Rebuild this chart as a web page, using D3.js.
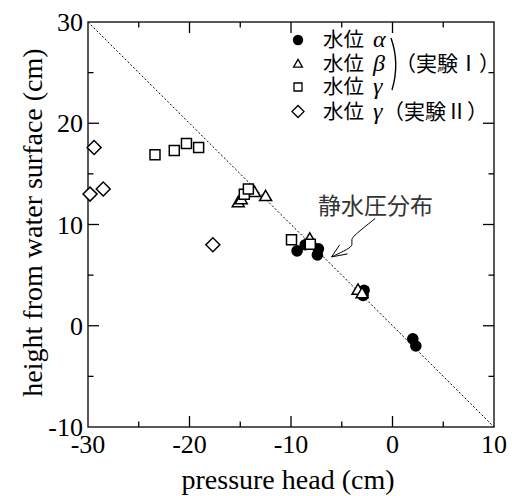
<!DOCTYPE html>
<html><head><meta charset="utf-8">
<script src="https://cdn.jsdelivr.net/npm/d3@7"></script>
<style>body{margin:0;background:#fff}svg{display:block}</style>
</head><body>
<svg id="c" width="512" height="496"></svg>
<script>
// ---- data ----
const alphaX = [-9.4, -8.6, -7.3, -7.4, -2.8, -2.9, 2.0, 2.3];
const alphaY = [7.4, 8.0, 7.6, 7.0, 3.5, 3.0, -1.3, -2.0];
const betaX = [-15.2, -14.9, -13.6, -12.5, -8.15, -3.4, -3.0];
const betaY = [12.1, 12.4, 13.1, 12.7, 8.5, 3.45, 3.1];
const gammaX = [-23.4, -21.5, -20.3, -19.1, -14.6, -14.2, -9.95, -8.1];
const gammaY = [16.9, 17.3, 18.0, 17.6, 13.0, 13.5, 8.5, 8.05];
const gamma2X = [-29.8, -28.5, -29.4, -17.7];
const gamma2Y = [13.0, 13.5, 17.6, 8.0];
const lineX = [-30, 10];
const lineY = [30, -10];
const xTicks = [-30, -20, -10, 0, 10];
const yTicks = [-10, 0, 10, 20, 30];
const xLabel = "pressure head (cm)";
const yLabel = "height from water surface (cm)";
const legendNames = ["α", "β", "γ", "γ"];
const annotText = "静水圧分布";
const arrowPts = [[-1.7, 10.6], [-3.7, 9.0], [-4.1, 8.5], [-3.9, 8.0], [-4.3, 7.6], [-6.0, 6.8]];

// ---- layout ----
const L = 88, R = 494, T = 22, B = 427;
const svg = d3.select("#c");
const x = d3.scaleLinear().domain([-30, 10]).range([L, R]);
const y = d3.scaleLinear().domain([-10, 30]).range([B, T]);
const serif = "'Liberation Serif','Times New Roman',serif";
const cjk = "'Liberation Serif','Noto Sans CJK JP','Noto Sans CJK SC',sans-serif";

// frame
svg.append("rect").attr("x", L).attr("y", T).attr("width", R - L).attr("height", B - T)
  .attr("fill", "none").attr("stroke", "#000").attr("stroke-width", 1.3);

// ticks (inward, all four sides)
const xt = d3.range(-30, 10.01, 5), yt = d3.range(-10, 30.01, 5);
const tk = svg.append("g").attr("stroke", "#000").attr("stroke-width", 1.3);
xt.forEach(v => {
  const len = (v % 10 === 0) ? 11 : 5.5;
  if (v > -30 && v < 10) {
    tk.append("line").attr("x1", x(v)).attr("x2", x(v)).attr("y1", B).attr("y2", B - len);
    tk.append("line").attr("x1", x(v)).attr("x2", x(v)).attr("y1", T).attr("y2", T + len);
  }
});
yt.forEach(v => {
  const len = (v % 10 === 0) ? 11 : 5.5;
  if (v > -10 && v < 30) {
    tk.append("line").attr("y1", y(v)).attr("y2", y(v)).attr("x1", L).attr("x2", L + len);
    tk.append("line").attr("y1", y(v)).attr("y2", y(v)).attr("x1", R).attr("x2", R - len);
  }
});

// tick labels
svg.append("g").selectAll("text").data(xTicks).join("text")
  .attr("x", d => x(d)).attr("y", 453).attr("text-anchor", "middle")
  .attr("font-family", serif).attr("font-size", 26).text(d => d);
svg.append("g").selectAll("text").data(yTicks).join("text")
  .attr("x", 83).attr("y", d => y(d) + 9).attr("text-anchor", "end")
  .attr("font-family", serif).attr("font-size", 26).text(d => d);

// axis labels
svg.append("text").attr("x", (L + R) / 2 - 3).attr("y", 489).attr("text-anchor", "middle")
  .attr("font-family", serif).attr("font-size", 28).text(xLabel);
svg.append("text").attr("transform", `translate(42,${(T + B) / 2 - 2}) rotate(-90)`)
  .attr("text-anchor", "middle").attr("font-family", serif).attr("font-size", 28).text(yLabel);

// hydrostatic line
svg.append("line").attr("x1", x(lineX[0])).attr("y1", y(lineY[0])).attr("x2", x(lineX[1])).attr("y2", y(lineY[1]))
  .attr("stroke", "#000").attr("stroke-width", 1).attr("stroke-dasharray", "2,2");

// markers
function pts(xs, ys) { return xs.map((v, i) => [v, ys[i]]); }
const g = svg.append("g");
g.selectAll(".a").data(pts(alphaX, alphaY)).join("circle")
  .attr("cx", d => x(d[0])).attr("cy", d => y(d[1])).attr("r", 5.8).attr("fill", "#000");
const tri = d3.symbol().type(d3.symbolTriangle).size(62)();
const sq = d3.symbol().type(d3.symbolSquare).size(100)();
const dia = d3.symbol().type(d3.symbolSquare).size(98)();
g.selectAll(".b").data(pts(betaX, betaY)).join("path")
  .attr("d", tri).attr("transform", d => `translate(${x(d[0])},${y(d[1])})`)
  .attr("fill", "#fff").attr("stroke", "#000").attr("stroke-width", 1.5);
g.selectAll(".c").data(pts(gammaX, gammaY)).join("path")
  .attr("d", sq).attr("transform", d => `translate(${x(d[0])},${y(d[1])})`)
  .attr("fill", "#fff").attr("stroke", "#000").attr("stroke-width", 1.5);
g.selectAll(".d").data(pts(gamma2X, gamma2Y)).join("path")
  .attr("d", dia).attr("transform", d => `translate(${x(d[0])},${y(d[1])}) rotate(45)`)
  .attr("fill", "#fff").attr("stroke", "#000").attr("stroke-width", 1.5);

// legend
const lg = svg.append("g");
const rows = [40, 63.5, 87, 111.5];
const mx = 298;
lg.append("circle").attr("cx", mx).attr("cy", rows[0]).attr("r", 5.2).attr("fill", "#000");
lg.append("path").attr("d", d3.symbol().type(d3.symbolTriangle).size(34)())
  .attr("transform", `translate(${mx},${rows[1] + 1})`).attr("fill", "#fff").attr("stroke", "#000").attr("stroke-width", 1.3);
lg.append("path").attr("d", d3.symbol().type(d3.symbolSquare).size(64)())
  .attr("transform", `translate(${mx},${rows[2]})`).attr("fill", "#fff").attr("stroke", "#000").attr("stroke-width", 1.3);
lg.append("path").attr("d", d3.symbol().type(d3.symbolSquare).size(72)())
  .attr("transform", `translate(${mx},${rows[3]}) rotate(45)`).attr("fill", "#fff").attr("stroke", "#000").attr("stroke-width", 1.3);
rows.forEach((ry, i) => {
  lg.append("text").attr("x", 323).attr("y", ry + 7).attr("font-size", 20.5)
    .attr("font-family", cjk).text("水位");
  lg.append("text").attr("x", 373).attr("y", ry + 7).attr("font-size", 24)
    .attr("font-family", serif).attr("font-style", "italic").text(legendNames[i]);
});
// bracket
lg.append("path").attr("d", "M391,38 Q400,63 392,90").attr("fill", "none").attr("stroke", "#000").attr("stroke-width", 1.4);
lg.append("text").attr("x", 395).attr("y", 71).attr("font-family", cjk).attr("font-size", 21).text("（実験Ⅰ）");
lg.append("text").attr("x", 383).attr("y", 119).attr("font-family", cjk).attr("font-size", 21).text("（実験Ⅱ）");

// annotation
svg.append("text").attr("x", 318).attr("y", 214).attr("font-family", cjk).attr("font-size", 23)
  .attr("fill", "#333").text(annotText);
const ap = arrowPts.map(p => [x(p[0]), y(p[1])]);
svg.append("path").attr("d", d3.line().curve(d3.curveBasis)(ap))
  .attr("fill", "none").attr("stroke", "#000").attr("stroke-width", 1);
const tip = ap[ap.length - 1];
svg.append("path").attr("d", `M${tip[0] + 16},${tip[1] - 3} L${tip[0]},${tip[1]} L${tip[0] + 8},${tip[1] - 12}`)
  .attr("fill", "none").attr("stroke", "#000").attr("stroke-width", 1);
</script>
</body></html>
